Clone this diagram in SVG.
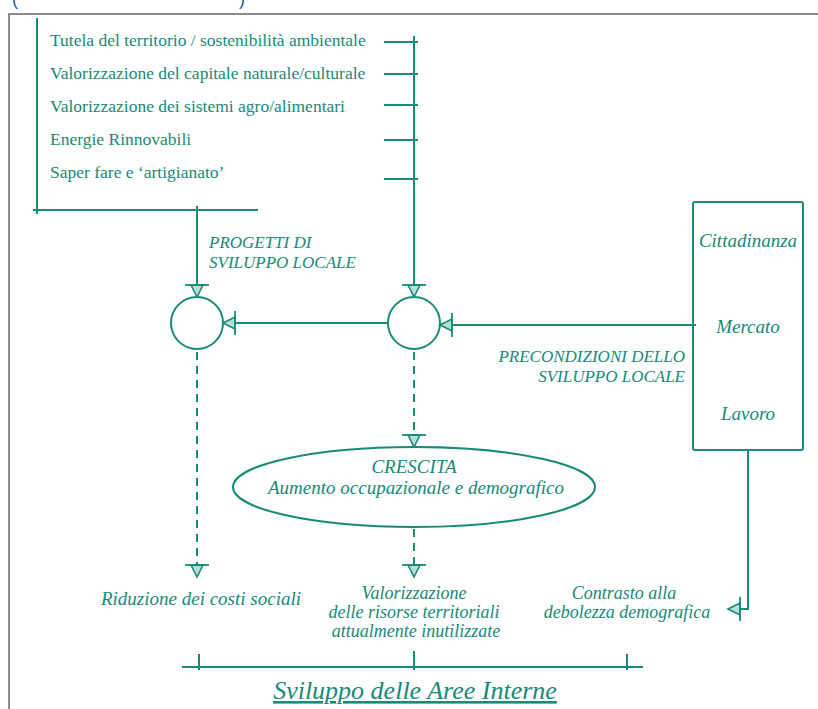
<svg xmlns="http://www.w3.org/2000/svg" width="818" height="709" viewBox="0 0 818 709">
<style>
.ln{stroke:#178a78;stroke-width:2;fill:none}
.ds{stroke:#178a78;stroke-width:2;fill:none;stroke-dasharray:8,6}
.t{font-family:"Liberation Serif",serif;fill:#178a78;font-size:17.5px}
.i{font-family:"Liberation Serif",serif;fill:#178a78;font-size:19px;font-style:italic}
.o{font-family:"Liberation Serif",serif;fill:#178a78;font-size:18px;font-style:italic}
.c{font-family:"Liberation Serif",serif;fill:#178a78;font-size:17px;font-style:italic}
</style>
<defs>
<marker id="ar" markerUnits="userSpaceOnUse" viewBox="-16 -14 18 28" refX="0" refY="0" markerWidth="18" markerHeight="28" orient="auto" overflow="visible">
<path d="M-12,-6 L0,0 L-12,6 Z" fill="#b9dcd5" stroke="#178a78" stroke-width="1.6"/>
<path d="M-12,-12 L-12,12" stroke="#178a78" stroke-width="1.8"/>
</marker>
</defs>
<rect x="9" y="14" width="820" height="710" fill="#fff" stroke="#8c8c8c" stroke-width="2"/>
<text x="12" y="5" font-family="Liberation Sans,sans-serif" font-size="18" fill="#2a5a9a">(</text>
<text x="239" y="5" font-family="Liberation Sans,sans-serif" font-size="18" fill="#2a5a9a">)</text>

<g id="themes">
<path class="ln" d="M37,18 V214 M33,210 H258"/>
<text class="t" x="50" y="46">Tutela del territorio / sostenibilità ambientale</text>
<text class="t" x="50" y="79">Valorizzazione del capitale naturale/culturale</text>
<text class="t" x="50" y="112">Valorizzazione dei sistemi agro/alimentari</text>
<text class="t" x="50" y="145">Energie Rinnovabili</text>
<text class="t" x="50" y="178">Saper fare e ‘artigianato’</text>
</g>

<g id="circle-left"><circle class="ln" cx="197" cy="323" r="26"/></g>
<g id="circle-right"><circle class="ln" cx="414" cy="323" r="26"/></g>

<g id="box">
<rect class="ln" x="693" y="202" width="110" height="248" rx="2"/>
<text class="i" x="748" y="247" text-anchor="middle">Cittadinanza</text>
<text class="i" x="748" y="333" text-anchor="middle">Mercato</text>
<text class="i" x="748" y="420" text-anchor="middle">Lavoro</text>
</g>

<g id="crescita">
<ellipse class="ln" cx="414" cy="487" rx="181" ry="40"/>
<text class="i" x="414" y="473" text-anchor="middle">CRESCITA</text>
<text class="i" x="416" y="494" text-anchor="middle">Aumento occupazionale e demografico</text>
</g>

<g id="labels">
<text class="c" x="209" y="248">PROGETTI DI</text>
<text class="c" x="209" y="268">SVILUPPO LOCALE</text>
<text class="c" x="685" y="362" text-anchor="end">PRECONDIZIONI DELLO</text>
<text class="c" x="685" y="382" text-anchor="end">SVILUPPO LOCALE</text>
</g>

<g id="outcome-1"><text class="i" x="201" y="605" text-anchor="middle">Riduzione dei costi sociali</text></g>
<g id="outcome-2">
<text class="o" x="414" y="599" text-anchor="middle">Valorizzazione</text>
<text class="o" x="414" y="618" text-anchor="middle">delle risorse territoriali</text>
<text class="o" x="416" y="637" text-anchor="middle">attualmente inutilizzate</text>
</g>
<g id="outcome-3">
<text class="o" x="624" y="599" text-anchor="middle">Contrasto alla</text>
<text class="o" x="627" y="618" text-anchor="middle">debolezza demografica</text>
</g>

<g id="title">
<text x="415" y="699" text-anchor="middle" font-family="Liberation Serif,serif" font-style="italic" font-size="26" fill="#178a78" text-decoration="underline">Sviluppo delle Aree Interne</text>
</g>

<g id="connectors">
<path class="ln" d="M384,42 H418 M384,74 H418 M384,105 H418 M384,140 H418 M384,179 H418"/>
<path class="ln" d="M414,36 V297" marker-end="url(#ar)"/>
<path class="ln" d="M197,206 V297" marker-end="url(#ar)"/>
<path class="ln" d="M388,323 H223" marker-end="url(#ar)"/>
<path class="ln" d="M696,325 H440" marker-end="url(#ar)"/>
<path class="ds" d="M197,352 V577" marker-end="url(#ar)"/>
<path class="ds" d="M414,352 V447" marker-end="url(#ar)"/>
<path class="ds" d="M414,529 V577" marker-end="url(#ar)"/>
<path class="ln" d="M748,450 V609 H728" marker-end="url(#ar)"/>
<path class="ln" d="M182,667 H643 M199,654 V670 M414,651 V670 M627,654 V670"/>
</g>
</svg>
